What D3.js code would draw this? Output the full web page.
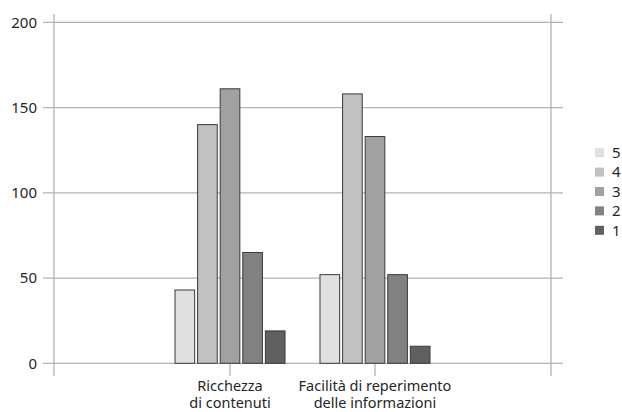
<!DOCTYPE html>
<html><head><meta charset="utf-8">
<script src="https://cdn.jsdelivr.net/npm/d3@7"></script>
<style>body{margin:0;background:#fff}svg{display:block}text{font-family:"Noto Sans",sans-serif;fill:#262626}</style>
</head><body><svg id="c" width="622" height="412"></svg>
<script>
const categories = [["Ricchezza","di contenuti"],["Facilità di reperimento","delle informazioni"]];
const seriesNames = ["5","4","3","2","1"];
const seriesColors = ["#e0e0e0","#c0c1c2","#a1a1a1","#818181","#606060"];
const values = [
  [43, 52],
  [140, 158],
  [161, 133],
  [65, 52],
  [19, 10]
];
const yTicks = [0,50,100,150,200];

(function(){
const svg = d3.select("#c");
const pLeft = 54, pRight = 551, pTop = 22.3, pBottom = 363.3;
const y = d3.scaleLinear().domain([0,200]).range([pBottom, pTop]);
const x = d3.scalePoint().domain(d3.range(categories.length)).range([pLeft, pRight]).padding(1.214);
const inner = d3.scaleBand().domain(d3.range(seriesNames.length)).range([-55, 55]).paddingInner(0.13);

svg.append("g").selectAll("line").data(yTicks).join("line")
  .attr("x1", 43).attr("x2", 563)
  .attr("y1", d => y(d)).attr("y2", d => y(d))
  .attr("stroke", "#b3b3b3").attr("stroke-width", 1.3);
svg.append("g").selectAll("line").data([pLeft, pRight]).join("line")
  .attr("x1", d => d).attr("x2", d => d)
  .attr("y1", 14).attr("y2", 376)
  .attr("stroke", "#b3b3b3").attr("stroke-width", 1.3);
svg.append("g").selectAll("line").data(categories.map((c,i)=>i)).join("line")
  .attr("x1", d => x(d)).attr("x2", d => x(d))
  .attr("y1", pBottom).attr("y2", 376)
  .attr("stroke", "#b3b3b3").attr("stroke-width", 1.3);

svg.append("g").selectAll("text").data(yTicks).join("text")
  .attr("x", 37).attr("y", d => y(d)).attr("dy", "0.35em")
  .attr("text-anchor", "end").attr("font-size", 15).text(d => d);

const g = svg.append("g");
seriesNames.forEach((s, si) => {
  g.selectAll(null).data(values[si]).join("rect")
    .attr("x", (d, ci) => x(ci) + inner(si))
    .attr("width", inner.bandwidth())
    .attr("y", d => y(d))
    .attr("height", d => y(0) - y(d))
    .attr("fill", seriesColors[si])
    .attr("stroke", "#3a3a3a").attr("stroke-width", 1);
});

categories.forEach((lines, ci) => {
  lines.forEach((l, li) => svg.append("text").attr("text-anchor", "middle").attr("font-size", 14.5)
    .attr("x", x(ci)).attr("y", 391 + li * 16.5).text(l));
});

const lg = svg.append("g");
seriesNames.forEach((s, i) => {
  const cy = 152.7 + i * 19.4;
  lg.append("rect").attr("x", 595).attr("y", cy - 4.5).attr("width", 9).attr("height", 9)
    .attr("fill", seriesColors[i]);
  lg.append("text").attr("x", 612).attr("y", cy).attr("dy", "0.35em").attr("font-size", 15).text(s);
});
})();
</script></body></html>
